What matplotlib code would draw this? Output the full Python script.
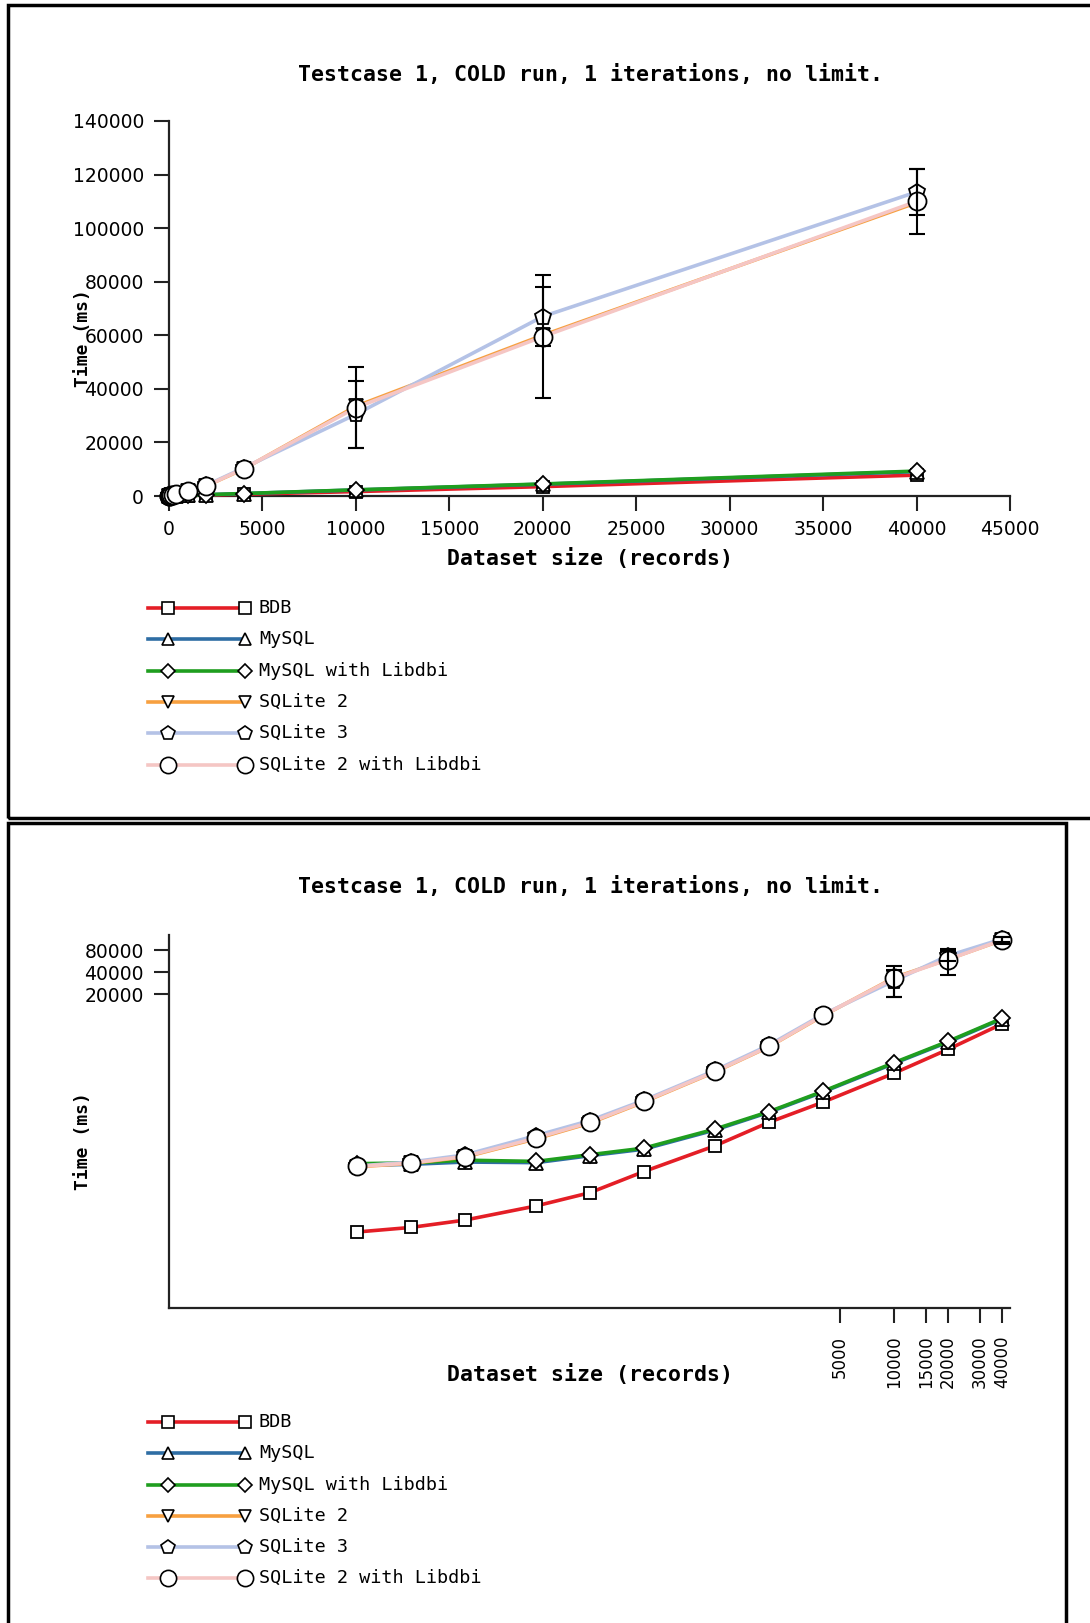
import matplotlib
matplotlib.use("Agg")
import matplotlib.pyplot as plt
from matplotlib.patches import Rectangle
from matplotlib.lines import Line2D
from matplotlib.ticker import FixedLocator, NullLocator, FixedFormatter

# ---------------- data ----------------
sizes = [10, 20, 40, 100, 200, 400, 1000, 2000, 4000, 10000, 20000, 40000]
bdb = [11, 12.7, 16, 25, 38, 74, 167, 350, 660, 1650, 3500, 7800]
mysql = [90, 93, 100, 98, 122, 150, 275, 480, 910, 2250, 4400, 9100]
mysql_libdbi = [95, 97, 106, 102, 126, 155, 283, 490, 930, 2300, 4500, 9300]
sqlite2 = [86, 96, 117, 208, 342, 665, 1720, 3800, 10100, 33500, 60000, 109500]
sqlite3 = [88, 100, 125, 230, 370, 700, 1800, 4000, 10500, 30500, 67000, 113500]
sqlite2_libdbi = [87, 97, 119, 213, 349, 676, 1740, 3830, 10200, 33000, 59500, 110000]

err_sizes = [10000, 20000, 40000]
sqlite3_err = [12500, 11000, 8500]
sqlite2_libdbi_err = [15000, 23000, 12000]

series_names = ["BDB", "MySQL", "MySQL with Libdbi", "SQLite 2", "SQLite 3",
                "SQLite 2 with Libdbi"]
series_values = [bdb, mysql, mysql_libdbi, sqlite2, sqlite3, sqlite2_libdbi]

top_yticks = [0, 20000, 40000, 60000, 80000, 100000, 120000, 140000]
top_xticks = [0, 5000, 10000, 15000, 20000, 25000, 30000, 35000, 40000, 45000]
log_yticks = [20000, 40000, 80000]
log_xticks = [5000, 10000, 15000, 20000, 30000, 40000]

title = "Testcase 1, COLD run, 1 iterations, no limit."
xlabel = "Dataset size (records)"
ylabel = "Time (ms)"

# ---------------- styles ----------------
colors = ["#e41e26", "#2e6da4", "#1f9e1f", "#f7a040", "#b4c2e6", "#f5c6c4"]
markers = ["s", "^", "D", "v", "p", "o"]
msizes = [9, 10, 8, 10, 12, 13]
lws = [2.6, 2.6, 2.6, 2.6, 2.6, 2.6]

W, H = 1090, 1623
fig = plt.figure(figsize=(W / 100, H / 100), dpi=100)
fig.patch.set_facecolor("white")


def fx(px):
    return px / W


def fy(py):
    return 1 - py / H


def axes_px(left, top, right, bottom):
    return fig.add_axes([fx(left), fy(bottom), (right - left) / W, (bottom - top) / H])


tick_font = dict(family="DejaVu Sans", size=13.5)
lab_font = dict(family="DejaVu Sans Mono", weight="bold", size=15.5)
ylab_font = dict(family="DejaVu Sans Mono", weight="bold", size=13)
title_font = dict(family="DejaVu Sans Mono", weight="bold", size=15.5)
leg_font = dict(family="DejaVu Sans Mono", size=13.3)


def style_axes(ax):
    for s in ["top", "right"]:
        ax.spines[s].set_visible(False)
    for s in ["left", "bottom"]:
        ax.spines[s].set_linewidth(1.6)
        ax.spines[s].set_color("#222222")
    ax.tick_params(direction="out", length=11, width=1.5, color="#222222")
    ax.set_facecolor("white")


def draw_series(ax):
    for i, (vals, c, m, ms, lw) in enumerate(zip(series_values, colors, markers, msizes, lws)):
        ax.plot(sizes, vals, color=c, lw=lw, marker=m, ms=ms, mfc="white",
                mec="black", mew=1.3, clip_on=False, zorder=3 + i)
    for vals, errs, z in [(sqlite3, sqlite3_err, 20), (sqlite2_libdbi, sqlite2_libdbi_err, 21)]:
        yv = [vals[sizes.index(s)] for s in err_sizes]
        ax.errorbar(err_sizes, yv, yerr=errs, fmt="none", ecolor="black",
                    elinewidth=1.5, capsize=6, capthick=1.5, clip_on=False, zorder=z)


def draw_legend(rows_y):
    for i, ry in enumerate(rows_y):
        fig.add_artist(Line2D([fx(148), fx(245)], [fy(ry), fy(ry)], color=colors[i],
                              lw=lws[i], transform=fig.transFigure))
        fig.add_artist(Line2D([fx(168), fx(245)], [fy(ry), fy(ry)], ls="none",
                              marker=markers[i], ms=msizes[i] * 0.9, mfc="white",
                              mec="black", mew=1.2, transform=fig.transFigure))
        fig.text(fx(259), fy(ry), series_names[i], ha="left", va="center", **leg_font)


# ---------------- panel borders ----------------
fig.add_artist(Rectangle((fx(8), fy(818)), (1100 - 8) / W, (818 - 5) / H, fill=False,
                         lw=2.5, ec="black", transform=fig.transFigure, clip_on=False))
fig.add_artist(Rectangle((fx(8), fy(1640)), (1066 - 8) / W, (1640 - 823) / H, fill=False,
                         lw=2.5, ec="black", transform=fig.transFigure, clip_on=False))

# ---------------- top (linear) chart ----------------
ax1 = axes_px(169, 121, 1010, 496)
style_axes(ax1)
draw_series(ax1)
ax1.set_xlim(0, 45000)
ax1.set_ylim(0, 140000)
ax1.set_yticks(top_yticks)
ax1.set_yticklabels([str(v) for v in top_yticks], **tick_font)
ax1.set_xticks(top_xticks)
ax1.set_xticklabels([str(v) for v in top_xticks], **tick_font)
ax1.tick_params(axis="y", pad=7)
ax1.tick_params(axis="x", pad=6)

fig.text(fx(591), fy(75), title, ha="center", va="center", **title_font)
fig.text(fx(590), fy(559), xlabel, ha="center", va="center", **lab_font)
fig.text(fx(83), fy(338), ylabel, ha="center", va="center", rotation=90, **ylab_font)
draw_legend([608, 639, 671, 702, 733, 765])

# ---------------- bottom (log) chart ----------------
ax2 = axes_px(169, 935, 1010, 1308)
style_axes(ax2)
ax2.set_xscale("log")
ax2.set_yscale("log")
draw_series(ax2)
ax2.set_xlim(0.892, 44360)
ax2.set_ylim(1, 1.29e5)
ax2.xaxis.set_major_locator(FixedLocator(log_xticks))
ax2.xaxis.set_major_formatter(FixedFormatter([str(v) for v in log_xticks]))
ax2.xaxis.set_minor_locator(NullLocator())
ax2.yaxis.set_major_locator(FixedLocator(log_yticks))
ax2.yaxis.set_major_formatter(FixedFormatter([str(v) for v in log_yticks]))
ax2.yaxis.set_minor_locator(NullLocator())
for t in ax2.get_xticklabels():
    t.set_rotation(90)
    t.set_fontfamily("DejaVu Sans")
    t.set_fontsize(12)
for t in ax2.get_yticklabels():
    t.set_fontfamily("DejaVu Sans")
    t.set_fontsize(13.5)
ax2.tick_params(axis="y", pad=7)
ax2.tick_params(axis="x", pad=9)

fig.text(fx(591), fy(887), title, ha="center", va="center", **title_font)
fig.text(fx(590), fy(1374), xlabel, ha="center", va="center", **lab_font)
fig.text(fx(83), fy(1141), ylabel, ha="center", va="center", rotation=90, **ylab_font)
draw_legend([1422, 1453, 1485, 1516, 1547, 1578])

fig.savefig("out.png", dpi=100, facecolor="white")
